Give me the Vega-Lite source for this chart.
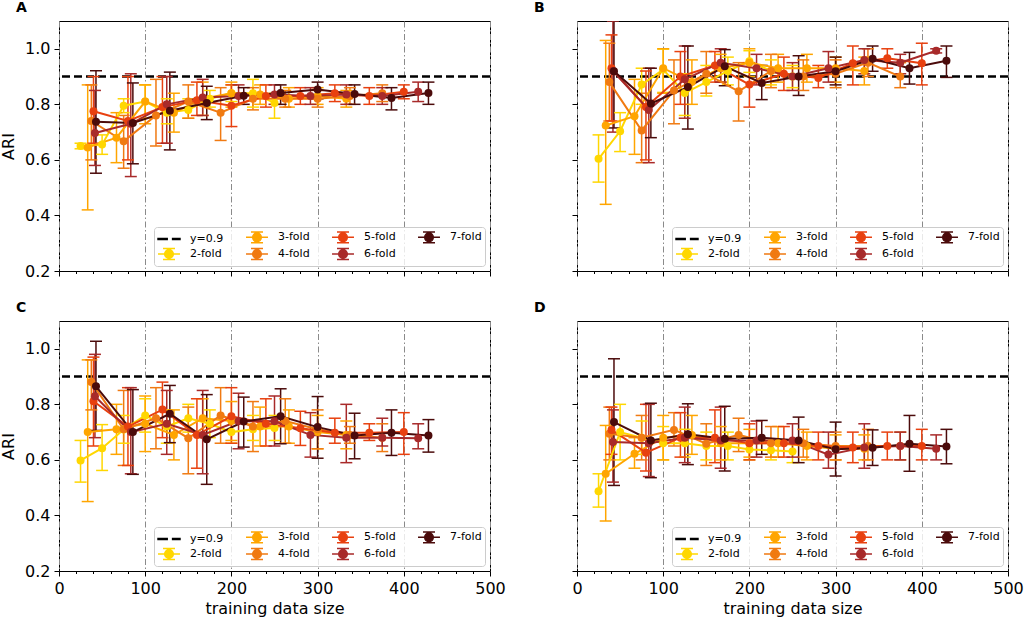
{
  "$schema": "https://vega.github.io/schema/vega-lite/v6.json",
  "padding": {"left": 0, "top": 0, "right": 0, "bottom": 0},
  "bounds": "flush",
  "columns": 2,
  "spacing": {"row": 50, "column": 87},
  "datasets": {
    "ari": [
      {"p":"A","f":"2-fold","x":25,"y":0.65,"lo":0.64,"hi":0.66},
      {"p":"A","f":"2-fold","x":50,"y":0.655,"lo":0.62,"hi":0.69},
      {"p":"A","f":"2-fold","x":75,"y":0.795,"lo":0.77,"hi":0.82},
      {"p":"A","f":"2-fold","x":100,"y":0.81,"lo":0.75,"hi":0.87},
      {"p":"A","f":"2-fold","x":125,"y":0.77,"lo":0.73,"hi":0.82},
      {"p":"A","f":"2-fold","x":150,"y":0.78,"lo":0.75,"hi":0.82},
      {"p":"A","f":"2-fold","x":175,"y":0.82,"lo":0.79,"hi":0.85},
      {"p":"A","f":"2-fold","x":200,"y":0.84,"lo":0.81,"hi":0.87},
      {"p":"A","f":"2-fold","x":225,"y":0.84,"lo":0.79,"hi":0.89},
      {"p":"A","f":"2-fold","x":250,"y":0.805,"lo":0.75,"hi":0.84},
      {"p":"A","f":"3-fold","x":33.3,"y":0.645,"lo":0.42,"hi":0.87},
      {"p":"A","f":"3-fold","x":66.7,"y":0.68,"lo":0.59,"hi":0.77},
      {"p":"A","f":"3-fold","x":100,"y":0.81,"lo":0.73,"hi":0.87},
      {"p":"A","f":"3-fold","x":133.3,"y":0.77,"lo":0.7,"hi":0.84},
      {"p":"A","f":"3-fold","x":166.7,"y":0.82,"lo":0.76,"hi":0.88},
      {"p":"A","f":"3-fold","x":200,"y":0.84,"lo":0.79,"hi":0.88},
      {"p":"A","f":"3-fold","x":233.3,"y":0.835,"lo":0.8,"hi":0.87},
      {"p":"A","f":"3-fold","x":266.7,"y":0.82,"lo":0.79,"hi":0.86},
      {"p":"A","f":"3-fold","x":300,"y":0.83,"lo":0.8,"hi":0.86},
      {"p":"A","f":"3-fold","x":333.3,"y":0.82,"lo":0.79,"hi":0.85},
      {"p":"A","f":"4-fold","x":37.5,"y":0.74,"lo":0.6,"hi":0.87},
      {"p":"A","f":"4-fold","x":75,"y":0.667,"lo":0.57,"hi":0.76},
      {"p":"A","f":"4-fold","x":112.5,"y":0.76,"lo":0.65,"hi":0.89},
      {"p":"A","f":"4-fold","x":150,"y":0.81,"lo":0.75,"hi":0.87},
      {"p":"A","f":"4-fold","x":187.5,"y":0.77,"lo":0.67,"hi":0.86},
      {"p":"A","f":"4-fold","x":225,"y":0.82,"lo":0.78,"hi":0.86},
      {"p":"A","f":"4-fold","x":262.5,"y":0.82,"lo":0.79,"hi":0.85},
      {"p":"A","f":"4-fold","x":300,"y":0.82,"lo":0.79,"hi":0.85},
      {"p":"A","f":"4-fold","x":337.5,"y":0.83,"lo":0.8,"hi":0.86},
      {"p":"A","f":"4-fold","x":375,"y":0.84,"lo":0.81,"hi":0.87},
      {"p":"A","f":"5-fold","x":40,"y":0.775,"lo":0.66,"hi":0.9},
      {"p":"A","f":"5-fold","x":80,"y":0.74,"lo":0.6,"hi":0.9},
      {"p":"A","f":"5-fold","x":120,"y":0.79,"lo":0.66,"hi":0.9},
      {"p":"A","f":"5-fold","x":160,"y":0.815,"lo":0.76,"hi":0.88},
      {"p":"A","f":"5-fold","x":200,"y":0.795,"lo":0.72,"hi":0.87},
      {"p":"A","f":"5-fold","x":240,"y":0.83,"lo":0.79,"hi":0.87},
      {"p":"A","f":"5-fold","x":280,"y":0.83,"lo":0.8,"hi":0.86},
      {"p":"A","f":"5-fold","x":320,"y":0.84,"lo":0.81,"hi":0.87},
      {"p":"A","f":"5-fold","x":360,"y":0.83,"lo":0.8,"hi":0.86},
      {"p":"A","f":"5-fold","x":400,"y":0.845,"lo":0.82,"hi":0.87},
      {"p":"A","f":"6-fold","x":41.7,"y":0.697,"lo":0.58,"hi":0.85},
      {"p":"A","f":"6-fold","x":83.3,"y":0.73,"lo":0.54,"hi":0.91},
      {"p":"A","f":"6-fold","x":125,"y":0.8,"lo":0.66,"hi":0.9},
      {"p":"A","f":"6-fold","x":166.7,"y":0.825,"lo":0.76,"hi":0.89},
      {"p":"A","f":"6-fold","x":208.3,"y":0.83,"lo":0.8,"hi":0.87},
      {"p":"A","f":"6-fold","x":250,"y":0.835,"lo":0.8,"hi":0.87},
      {"p":"A","f":"6-fold","x":291.7,"y":0.83,"lo":0.8,"hi":0.86},
      {"p":"A","f":"6-fold","x":333.3,"y":0.835,"lo":0.8,"hi":0.87},
      {"p":"A","f":"6-fold","x":375,"y":0.83,"lo":0.8,"hi":0.86},
      {"p":"A","f":"6-fold","x":416.7,"y":0.845,"lo":0.81,"hi":0.88},
      {"p":"A","f":"7-fold","x":42.9,"y":0.737,"lo":0.552,"hi":0.921},
      {"p":"A","f":"7-fold","x":85.7,"y":0.733,"lo":0.586,"hi":0.877},
      {"p":"A","f":"7-fold","x":128.6,"y":0.777,"lo":0.636,"hi":0.916},
      {"p":"A","f":"7-fold","x":171.4,"y":0.805,"lo":0.745,"hi":0.865},
      {"p":"A","f":"7-fold","x":214.3,"y":0.831,"lo":0.8,"hi":0.86},
      {"p":"A","f":"7-fold","x":257.1,"y":0.841,"lo":0.8,"hi":0.87},
      {"p":"A","f":"7-fold","x":300,"y":0.853,"lo":0.82,"hi":0.88},
      {"p":"A","f":"7-fold","x":342.9,"y":0.837,"lo":0.8,"hi":0.87},
      {"p":"A","f":"7-fold","x":385.7,"y":0.823,"lo":0.78,"hi":0.86},
      {"p":"A","f":"7-fold","x":428.6,"y":0.841,"lo":0.8,"hi":0.88},

      {"p":"B","f":"2-fold","x":25,"y":0.604,"lo":0.52,"hi":0.69},
      {"p":"B","f":"2-fold","x":50,"y":0.703,"lo":0.63,"hi":0.77},
      {"p":"B","f":"2-fold","x":75,"y":0.871,"lo":0.8,"hi":0.93},
      {"p":"B","f":"2-fold","x":100,"y":0.925,"lo":0.843,"hi":0.999},
      {"p":"B","f":"2-fold","x":125,"y":0.841,"lo":0.76,"hi":0.91},
      {"p":"B","f":"2-fold","x":150,"y":0.88,"lo":0.83,"hi":0.94},
      {"p":"B","f":"2-fold","x":175,"y":0.92,"lo":0.87,"hi":0.97},
      {"p":"B","f":"2-fold","x":200,"y":0.955,"lo":0.915,"hi":0.993},
      {"p":"B","f":"2-fold","x":225,"y":0.92,"lo":0.87,"hi":0.96},
      {"p":"B","f":"2-fold","x":250,"y":0.9,"lo":0.86,"hi":0.94},
      {"p":"B","f":"3-fold","x":33.3,"y":0.724,"lo":0.44,"hi":1.03},
      {"p":"B","f":"3-fold","x":66.7,"y":0.757,"lo":0.62,"hi":0.89},
      {"p":"B","f":"3-fold","x":100,"y":0.93,"lo":0.84,"hi":1.0},
      {"p":"B","f":"3-fold","x":133.3,"y":0.88,"lo":0.8,"hi":0.96},
      {"p":"B","f":"3-fold","x":166.7,"y":0.93,"lo":0.88,"hi":0.98},
      {"p":"B","f":"3-fold","x":200,"y":0.95,"lo":0.9,"hi":1.0},
      {"p":"B","f":"3-fold","x":233.3,"y":0.93,"lo":0.88,"hi":0.98},
      {"p":"B","f":"3-fold","x":266.7,"y":0.93,"lo":0.88,"hi":0.98},
      {"p":"B","f":"3-fold","x":300,"y":0.93,"lo":0.88,"hi":0.97},
      {"p":"B","f":"3-fold","x":333.3,"y":0.92,"lo":0.87,"hi":0.97},
      {"p":"B","f":"4-fold","x":37.5,"y":0.88,"lo":0.74,"hi":1.02},
      {"p":"B","f":"4-fold","x":75,"y":0.706,"lo":0.59,"hi":0.84},
      {"p":"B","f":"4-fold","x":112.5,"y":0.85,"lo":0.73,"hi":0.96},
      {"p":"B","f":"4-fold","x":150,"y":0.91,"lo":0.84,"hi":0.99},
      {"p":"B","f":"4-fold","x":187.5,"y":0.847,"lo":0.74,"hi":0.95},
      {"p":"B","f":"4-fold","x":225,"y":0.92,"lo":0.86,"hi":0.98},
      {"p":"B","f":"4-fold","x":262.5,"y":0.9,"lo":0.85,"hi":0.96},
      {"p":"B","f":"4-fold","x":300,"y":0.91,"lo":0.86,"hi":0.96},
      {"p":"B","f":"4-fold","x":337.5,"y":0.95,"lo":0.9,"hi":1.0},
      {"p":"B","f":"4-fold","x":375,"y":0.9,"lo":0.86,"hi":0.95},
      {"p":"B","f":"5-fold","x":40,"y":0.93,"lo":0.74,"hi":1.05},
      {"p":"B","f":"5-fold","x":80,"y":0.79,"lo":0.6,"hi":0.92},
      {"p":"B","f":"5-fold","x":120,"y":0.9,"lo":0.8,"hi":0.99},
      {"p":"B","f":"5-fold","x":160,"y":0.94,"lo":0.88,"hi":0.99},
      {"p":"B","f":"5-fold","x":200,"y":0.871,"lo":0.79,"hi":0.95},
      {"p":"B","f":"5-fold","x":240,"y":0.91,"lo":0.85,"hi":0.97},
      {"p":"B","f":"5-fold","x":280,"y":0.895,"lo":0.86,"hi":0.94},
      {"p":"B","f":"5-fold","x":320,"y":0.948,"lo":0.87,"hi":1.01},
      {"p":"B","f":"5-fold","x":360,"y":0.966,"lo":0.93,"hi":1.0},
      {"p":"B","f":"5-fold","x":400,"y":0.948,"lo":0.87,"hi":1.02},
      {"p":"B","f":"6-fold","x":41.7,"y":0.92,"lo":0.7,"hi":1.1},
      {"p":"B","f":"6-fold","x":83.3,"y":0.78,"lo":0.59,"hi":0.93},
      {"p":"B","f":"6-fold","x":125,"y":0.89,"lo":0.75,"hi":1.01},
      {"p":"B","f":"6-fold","x":166.7,"y":0.95,"lo":0.88,"hi":1.0},
      {"p":"B","f":"6-fold","x":208.3,"y":0.93,"lo":0.87,"hi":0.98},
      {"p":"B","f":"6-fold","x":250,"y":0.9,"lo":0.85,"hi":0.95},
      {"p":"B","f":"6-fold","x":291.7,"y":0.93,"lo":0.88,"hi":0.99},
      {"p":"B","f":"6-fold","x":333.3,"y":0.96,"lo":0.91,"hi":1.0},
      {"p":"B","f":"6-fold","x":375,"y":0.95,"lo":0.91,"hi":0.98},
      {"p":"B","f":"6-fold","x":416.7,"y":0.993,"lo":0.985,"hi":1.0},
      {"p":"B","f":"7-fold","x":42.9,"y":0.919,"lo":0.715,"hi":1.15},
      {"p":"B","f":"7-fold","x":85.7,"y":0.803,"lo":0.68,"hi":0.93},
      {"p":"B","f":"7-fold","x":128.6,"y":0.862,"lo":0.711,"hi":1.01},
      {"p":"B","f":"7-fold","x":171.4,"y":0.937,"lo":0.867,"hi":0.997},
      {"p":"B","f":"7-fold","x":214.3,"y":0.877,"lo":0.817,"hi":0.94},
      {"p":"B","f":"7-fold","x":257.1,"y":0.9,"lo":0.832,"hi":0.975},
      {"p":"B","f":"7-fold","x":300,"y":0.919,"lo":0.87,"hi":0.97},
      {"p":"B","f":"7-fold","x":342.9,"y":0.964,"lo":0.919,"hi":1.01},
      {"p":"B","f":"7-fold","x":385.7,"y":0.93,"lo":0.873,"hi":0.987},
      {"p":"B","f":"7-fold","x":428.6,"y":0.957,"lo":0.897,"hi":1.01},

      {"p":"C","f":"2-fold","x":25,"y":0.598,"lo":0.52,"hi":0.67},
      {"p":"C","f":"2-fold","x":50,"y":0.642,"lo":0.562,"hi":0.727},
      {"p":"C","f":"2-fold","x":75,"y":0.709,"lo":0.66,"hi":0.76},
      {"p":"C","f":"2-fold","x":100,"y":0.76,"lo":0.7,"hi":0.82},
      {"p":"C","f":"2-fold","x":125,"y":0.72,"lo":0.66,"hi":0.78},
      {"p":"C","f":"2-fold","x":150,"y":0.75,"lo":0.7,"hi":0.8},
      {"p":"C","f":"2-fold","x":175,"y":0.73,"lo":0.68,"hi":0.78},
      {"p":"C","f":"2-fold","x":200,"y":0.7,"lo":0.66,"hi":0.75},
      {"p":"C","f":"2-fold","x":225,"y":0.71,"lo":0.67,"hi":0.76},
      {"p":"C","f":"2-fold","x":250,"y":0.715,"lo":0.67,"hi":0.76},
      {"p":"C","f":"3-fold","x":33.3,"y":0.7,"lo":0.45,"hi":0.96},
      {"p":"C","f":"3-fold","x":66.7,"y":0.71,"lo":0.62,"hi":0.8},
      {"p":"C","f":"3-fold","x":100,"y":0.73,"lo":0.63,"hi":0.83},
      {"p":"C","f":"3-fold","x":133.3,"y":0.69,"lo":0.6,"hi":0.78},
      {"p":"C","f":"3-fold","x":166.7,"y":0.75,"lo":0.68,"hi":0.82},
      {"p":"C","f":"3-fold","x":200,"y":0.74,"lo":0.67,"hi":0.81},
      {"p":"C","f":"3-fold","x":233.3,"y":0.72,"lo":0.65,"hi":0.79},
      {"p":"C","f":"3-fold","x":266.7,"y":0.72,"lo":0.66,"hi":0.78},
      {"p":"C","f":"3-fold","x":300,"y":0.7,"lo":0.64,"hi":0.76},
      {"p":"C","f":"3-fold","x":333.3,"y":0.69,"lo":0.64,"hi":0.74},
      {"p":"C","f":"4-fold","x":37.5,"y":0.88,"lo":0.78,"hi":0.96},
      {"p":"C","f":"4-fold","x":75,"y":0.71,"lo":0.58,"hi":0.85},
      {"p":"C","f":"4-fold","x":112.5,"y":0.75,"lo":0.64,"hi":0.86},
      {"p":"C","f":"4-fold","x":150,"y":0.678,"lo":0.55,"hi":0.79},
      {"p":"C","f":"4-fold","x":187.5,"y":0.76,"lo":0.66,"hi":0.86},
      {"p":"C","f":"4-fold","x":225,"y":0.72,"lo":0.63,"hi":0.81},
      {"p":"C","f":"4-fold","x":262.5,"y":0.74,"lo":0.66,"hi":0.82},
      {"p":"C","f":"4-fold","x":300,"y":0.71,"lo":0.64,"hi":0.78},
      {"p":"C","f":"4-fold","x":337.5,"y":0.69,"lo":0.66,"hi":0.72},
      {"p":"C","f":"4-fold","x":375,"y":0.68,"lo":0.63,"hi":0.73},
      {"p":"C","f":"5-fold","x":40,"y":0.811,"lo":0.65,"hi":0.97},
      {"p":"C","f":"5-fold","x":80,"y":0.72,"lo":0.58,"hi":0.86},
      {"p":"C","f":"5-fold","x":120,"y":0.781,"lo":0.68,"hi":0.88},
      {"p":"C","f":"5-fold","x":160,"y":0.69,"lo":0.57,"hi":0.82},
      {"p":"C","f":"5-fold","x":200,"y":0.757,"lo":0.66,"hi":0.86},
      {"p":"C","f":"5-fold","x":240,"y":0.73,"lo":0.65,"hi":0.82},
      {"p":"C","f":"5-fold","x":280,"y":0.714,"lo":0.652,"hi":0.775},
      {"p":"C","f":"5-fold","x":320,"y":0.698,"lo":0.66,"hi":0.75},
      {"p":"C","f":"5-fold","x":360,"y":0.698,"lo":0.67,"hi":0.73},
      {"p":"C","f":"5-fold","x":400,"y":0.7,"lo":0.62,"hi":0.77},
      {"p":"C","f":"6-fold","x":41.7,"y":0.829,"lo":0.68,"hi":0.98},
      {"p":"C","f":"6-fold","x":83.3,"y":0.7,"lo":0.55,"hi":0.86},
      {"p":"C","f":"6-fold","x":125,"y":0.73,"lo":0.62,"hi":0.85},
      {"p":"C","f":"6-fold","x":166.7,"y":0.69,"lo":0.55,"hi":0.85},
      {"p":"C","f":"6-fold","x":208.3,"y":0.74,"lo":0.64,"hi":0.84},
      {"p":"C","f":"6-fold","x":250,"y":0.739,"lo":0.65,"hi":0.83},
      {"p":"C","f":"6-fold","x":291.7,"y":0.69,"lo":0.61,"hi":0.77},
      {"p":"C","f":"6-fold","x":333.3,"y":0.68,"lo":0.59,"hi":0.8},
      {"p":"C","f":"6-fold","x":375,"y":0.68,"lo":0.65,"hi":0.75},
      {"p":"C","f":"6-fold","x":416.7,"y":0.678,"lo":0.64,"hi":0.73},
      {"p":"C","f":"7-fold","x":42.9,"y":0.865,"lo":0.706,"hi":1.027},
      {"p":"C","f":"7-fold","x":85.7,"y":0.7,"lo":0.548,"hi":0.853},
      {"p":"C","f":"7-fold","x":128.6,"y":0.766,"lo":0.662,"hi":0.868},
      {"p":"C","f":"7-fold","x":171.4,"y":0.674,"lo":0.512,"hi":0.835},
      {"p":"C","f":"7-fold","x":214.3,"y":0.738,"lo":0.646,"hi":0.826},
      {"p":"C","f":"7-fold","x":257.1,"y":0.757,"lo":0.658,"hi":0.856},
      {"p":"C","f":"7-fold","x":300,"y":0.718,"lo":0.606,"hi":0.828},
      {"p":"C","f":"7-fold","x":342.9,"y":0.688,"lo":0.604,"hi":0.768},
      {"p":"C","f":"7-fold","x":385.7,"y":0.698,"lo":0.616,"hi":0.78},
      {"p":"C","f":"7-fold","x":428.6,"y":0.688,"lo":0.628,"hi":0.745},

      {"p":"D","f":"2-fold","x":25,"y":0.487,"lo":0.43,"hi":0.55},
      {"p":"D","f":"2-fold","x":50,"y":0.7,"lo":0.6,"hi":0.8},
      {"p":"D","f":"2-fold","x":75,"y":0.68,"lo":0.62,"hi":0.74},
      {"p":"D","f":"2-fold","x":100,"y":0.66,"lo":0.6,"hi":0.72},
      {"p":"D","f":"2-fold","x":125,"y":0.66,"lo":0.61,"hi":0.71},
      {"p":"D","f":"2-fold","x":150,"y":0.65,"lo":0.6,"hi":0.7},
      {"p":"D","f":"2-fold","x":175,"y":0.65,"lo":0.6,"hi":0.7},
      {"p":"D","f":"2-fold","x":200,"y":0.637,"lo":0.6,"hi":0.68},
      {"p":"D","f":"2-fold","x":225,"y":0.635,"lo":0.6,"hi":0.67},
      {"p":"D","f":"2-fold","x":250,"y":0.63,"lo":0.59,"hi":0.67},
      {"p":"D","f":"3-fold","x":33.3,"y":0.55,"lo":0.38,"hi":0.724},
      {"p":"D","f":"3-fold","x":66.7,"y":0.622,"lo":0.57,"hi":0.68},
      {"p":"D","f":"3-fold","x":100,"y":0.68,"lo":0.6,"hi":0.76},
      {"p":"D","f":"3-fold","x":133.3,"y":0.69,"lo":0.62,"hi":0.76},
      {"p":"D","f":"3-fold","x":166.7,"y":0.66,"lo":0.6,"hi":0.72},
      {"p":"D","f":"3-fold","x":200,"y":0.66,"lo":0.61,"hi":0.71},
      {"p":"D","f":"3-fold","x":233.3,"y":0.66,"lo":0.61,"hi":0.72},
      {"p":"D","f":"3-fold","x":266.7,"y":0.65,"lo":0.6,"hi":0.7},
      {"p":"D","f":"3-fold","x":300,"y":0.64,"lo":0.6,"hi":0.69},
      {"p":"D","f":"3-fold","x":333.3,"y":0.64,"lo":0.6,"hi":0.69},
      {"p":"D","f":"4-fold","x":37.5,"y":0.694,"lo":0.6,"hi":0.79},
      {"p":"D","f":"4-fold","x":75,"y":0.68,"lo":0.6,"hi":0.76},
      {"p":"D","f":"4-fold","x":112.5,"y":0.708,"lo":0.65,"hi":0.77},
      {"p":"D","f":"4-fold","x":150,"y":0.658,"lo":0.58,"hi":0.73},
      {"p":"D","f":"4-fold","x":187.5,"y":0.69,"lo":0.63,"hi":0.75},
      {"p":"D","f":"4-fold","x":225,"y":0.66,"lo":0.61,"hi":0.72},
      {"p":"D","f":"4-fold","x":262.5,"y":0.66,"lo":0.61,"hi":0.71},
      {"p":"D","f":"4-fold","x":300,"y":0.65,"lo":0.6,"hi":0.7},
      {"p":"D","f":"4-fold","x":337.5,"y":0.65,"lo":0.6,"hi":0.71},
      {"p":"D","f":"4-fold","x":375,"y":0.65,"lo":0.6,"hi":0.7},
      {"p":"D","f":"5-fold","x":40,"y":0.708,"lo":0.62,"hi":0.79},
      {"p":"D","f":"5-fold","x":80,"y":0.626,"lo":0.56,"hi":0.8},
      {"p":"D","f":"5-fold","x":120,"y":0.68,"lo":0.61,"hi":0.77},
      {"p":"D","f":"5-fold","x":160,"y":0.68,"lo":0.59,"hi":0.78},
      {"p":"D","f":"5-fold","x":200,"y":0.66,"lo":0.6,"hi":0.73},
      {"p":"D","f":"5-fold","x":240,"y":0.66,"lo":0.61,"hi":0.72},
      {"p":"D","f":"5-fold","x":280,"y":0.65,"lo":0.6,"hi":0.7},
      {"p":"D","f":"5-fold","x":320,"y":0.645,"lo":0.59,"hi":0.7},
      {"p":"D","f":"5-fold","x":360,"y":0.65,"lo":0.6,"hi":0.7},
      {"p":"D","f":"5-fold","x":400,"y":0.65,"lo":0.6,"hi":0.71},
      {"p":"D","f":"6-fold","x":41.7,"y":0.664,"lo":0.52,"hi":0.78},
      {"p":"D","f":"6-fold","x":83.3,"y":0.66,"lo":0.54,"hi":0.8},
      {"p":"D","f":"6-fold","x":125,"y":0.68,"lo":0.59,"hi":0.79},
      {"p":"D","f":"6-fold","x":166.7,"y":0.67,"lo":0.57,"hi":0.79},
      {"p":"D","f":"6-fold","x":208.3,"y":0.67,"lo":0.61,"hi":0.74},
      {"p":"D","f":"6-fold","x":250,"y":0.67,"lo":0.61,"hi":0.73},
      {"p":"D","f":"6-fold","x":291.7,"y":0.619,"lo":0.57,"hi":0.7},
      {"p":"D","f":"6-fold","x":333.3,"y":0.645,"lo":0.57,"hi":0.73},
      {"p":"D","f":"6-fold","x":375,"y":0.65,"lo":0.6,"hi":0.7},
      {"p":"D","f":"6-fold","x":416.7,"y":0.64,"lo":0.6,"hi":0.69},
      {"p":"D","f":"7-fold","x":42.9,"y":0.736,"lo":0.508,"hi":0.964},
      {"p":"D","f":"7-fold","x":85.7,"y":0.67,"lo":0.536,"hi":0.804},
      {"p":"D","f":"7-fold","x":128.6,"y":0.692,"lo":0.583,"hi":0.802},
      {"p":"D","f":"7-fold","x":171.4,"y":0.676,"lo":0.56,"hi":0.793},
      {"p":"D","f":"7-fold","x":214.3,"y":0.68,"lo":0.62,"hi":0.742},
      {"p":"D","f":"7-fold","x":257.1,"y":0.67,"lo":0.59,"hi":0.754},
      {"p":"D","f":"7-fold","x":300,"y":0.638,"lo":0.542,"hi":0.736},
      {"p":"D","f":"7-fold","x":342.9,"y":0.644,"lo":0.58,"hi":0.708},
      {"p":"D","f":"7-fold","x":385.7,"y":0.658,"lo":0.559,"hi":0.76},
      {"p":"D","f":"7-fold","x":428.6,"y":0.648,"lo":0.586,"hi":0.71}
    ]
  },
  "concat": [
    {
      "width": 431,
      "height": 250,
      "title": {"text": "A", "anchor": "start", "frame": "group", "dx": -43, "offset": 6},
      "resolve": {"legend": {"color": "independent", "stroke": "independent", "shape": "independent"}},
      "layer": [
        {
          "data": {"values": [{}]},
          "mark": {"type": "rule", "color": "black", "strokeWidth": 2.5, "strokeDash": [8, 4]},
          "encoding": {"y": {"datum": 0.9, "type": "quantitative", "scale": {"domain": [0.2, 1.1], "nice": false},
            "axis": {"values": [0.2,0.25,0.3,0.35,0.4,0.45,0.5,0.55,0.6,0.65,0.7,0.75,0.8,0.85,0.9,0.95,1.0,1.05,1.1],
              "format": ".1f", "title": "ARI",
              "labelExpr": "round(datum.value * 100) % 20 === 0 ? datum.label : ''",
              "tickSize": {"condition": {"test": "round(datum.value * 100) % 20 === 0", "value": 5}, "value": 2.5},
              "gridOpacity": {"condition": {"test": "round(datum.value * 100) % 20 === 0", "value": 1}, "value": 0}}}}
        },
        {
          "data": {"name": "ari"},
          "transform": [{"filter": "datum.p === 'A'"}],
          "resolve": {"legend": {"color": "independent", "stroke": "independent", "shape": "independent"}},
          "encoding": {
            "x": {"field": "x", "type": "quantitative", "scale": {"domain": [0, 500], "nice": false},
              "axis": {"values": [0,20,40,60,80,100,120,140,160,180,200,220,240,260,280,300,320,340,360,380,400,420,440,460,480,500],
                "labels": false, "title": null,
                "tickSize": {"condition": {"test": "datum.value % 100 === 0", "value": 5}, "value": 2.5},
                "gridOpacity": {"condition": {"test": "datum.value % 100 === 0", "value": 1}, "value": 0}}},
            "color": {"field": "f", "type": "nominal", "legend": null,
              "scale": {"domain": ["y=0.9","2-fold","3-fold","4-fold","5-fold","6-fold","7-fold"], "range": ["#000000","#ffd700","#ffa500","#f07a12","#e8400f","#a82a2a","#4b0b0b"]}}
          },
          "layer": [
            {"mark": {"type": "rule", "strokeWidth": 1.5, "clip": true},
             "encoding": {"y": {"field": "lo", "type": "quantitative", "scale": {"domain": [0.2, 1.1], "nice": false}}, "y2": {"field": "hi"}}},
            {"mark": {"type": "tick", "orient": "horizontal", "size": 12, "thickness": 1.5, "opacity": 1, "clip": true},
             "encoding": {"y": {"field": "lo", "type": "quantitative", "scale": {"domain": [0.2, 1.1], "nice": false}}}},
            {"mark": {"type": "tick", "orient": "horizontal", "size": 12, "thickness": 1.5, "opacity": 1, "clip": true},
             "encoding": {"y": {"field": "hi", "type": "quantitative", "scale": {"domain": [0.2, 1.1], "nice": false}}}},
            {"mark": {"type": "line", "strokeWidth": 2, "clip": true},
             "encoding": {"y": {"field": "y", "type": "quantitative", "scale": {"domain": [0.2, 1.1], "nice": false}}}},
            {"mark": {"type": "point", "filled": true, "size": 64, "opacity": 1, "clip": true},
             "encoding": {"y": {"field": "y", "type": "quantitative", "scale": {"domain": [0.2, 1.1], "nice": false}}}},
            {"transform": [{"filter": "false"}],
             "mark": {"type": "point", "filled": true, "opacity": 1},
             "encoding": {
               "y": {"field": "y", "type": "quantitative", "scale": {"domain": [0.2, 1.1], "nice": false}},
               "color": {"field": "f", "type": "nominal", "legend": {"title": null},
                 "scale": {"domain": ["y=0.9","2-fold","3-fold","4-fold","5-fold","6-fold","7-fold"], "range": ["#000000","#ffd700","#ffa500","#f07a12","#e8400f","#a82a2a","#4b0b0b"]}},
               "stroke": {"field": "f", "type": "nominal", "legend": {"title": null},
                 "scale": {"domain": ["y=0.9","2-fold","3-fold","4-fold","5-fold","6-fold","7-fold"], "range": ["#000000","#ffd700","#ffa500","#f07a12","#e8400f","#a82a2a","#4b0b0b"]}},
               "shape": {"field": "f", "type": "nominal", "legend": {"title": null},
                 "scale": {"domain": ["y=0.9","2-fold","3-fold","4-fold","5-fold","6-fold","7-fold"],
                   "range": ["M-1.83,-0.1H-0.3V0.1H-1.83ZM0.6,-0.1H1.83V0.1H0.6Z",
                     "M-1.83,0H1.83M0,-0.9V0.9M-1,-0.9H1M-1,0.9H1M0.72,0A0.72,0.72,0,1,1,-0.72,0A0.72,0.72,0,1,1,0.72,0Z",
                     "M-1.83,0H1.83M0,-0.9V0.9M-1,-0.9H1M-1,0.9H1M0.72,0A0.72,0.72,0,1,1,-0.72,0A0.72,0.72,0,1,1,0.72,0Z",
                     "M-1.83,0H1.83M0,-0.9V0.9M-1,-0.9H1M-1,0.9H1M0.72,0A0.72,0.72,0,1,1,-0.72,0A0.72,0.72,0,1,1,0.72,0Z",
                     "M-1.83,0H1.83M0,-0.9V0.9M-1,-0.9H1M-1,0.9H1M0.72,0A0.72,0.72,0,1,1,-0.72,0A0.72,0.72,0,1,1,0.72,0Z",
                     "M-1.83,0H1.83M0,-0.9V0.9M-1,-0.9H1M-1,0.9H1M0.72,0A0.72,0.72,0,1,1,-0.72,0A0.72,0.72,0,1,1,0.72,0Z",
                     "M-1.83,0H1.83M0,-0.9V0.9M-1,-0.9H1M-1,0.9H1M0.72,0A0.72,0.72,0,1,1,-0.72,0A0.72,0.72,0,1,1,0.72,0Z"]}}
             }}
          ]
        }
      ]
    },
    {
      "width": 431,
      "height": 250,
      "title": {"text": "B", "anchor": "start", "frame": "group", "dx": -43, "offset": 6},
      "resolve": {"legend": {"color": "independent", "stroke": "independent", "shape": "independent"}},
      "layer": [
        {
          "data": {"values": [{}]},
          "mark": {"type": "rule", "color": "black", "strokeWidth": 2.5, "strokeDash": [8, 4]},
          "encoding": {"y": {"datum": 0.9, "type": "quantitative", "scale": {"domain": [0.2, 1.1], "nice": false},
            "axis": {"values": [0.2,0.25,0.3,0.35,0.4,0.45,0.5,0.55,0.6,0.65,0.7,0.75,0.8,0.85,0.9,0.95,1.0,1.05,1.1],
              "labels": false, "title": null,
              "tickSize": {"condition": {"test": "round(datum.value * 100) % 20 === 0", "value": 5}, "value": 2.5},
              "gridOpacity": {"condition": {"test": "round(datum.value * 100) % 20 === 0", "value": 1}, "value": 0}}}}
        },
        {
          "data": {"name": "ari"},
          "transform": [{"filter": "datum.p === 'B'"}],
          "resolve": {"legend": {"color": "independent", "stroke": "independent", "shape": "independent"}},
          "encoding": {
            "x": {"field": "x", "type": "quantitative", "scale": {"domain": [0, 500], "nice": false},
              "axis": {"values": [0,20,40,60,80,100,120,140,160,180,200,220,240,260,280,300,320,340,360,380,400,420,440,460,480,500],
                "labels": false, "title": null,
                "tickSize": {"condition": {"test": "datum.value % 100 === 0", "value": 5}, "value": 2.5},
                "gridOpacity": {"condition": {"test": "datum.value % 100 === 0", "value": 1}, "value": 0}}},
            "color": {"field": "f", "type": "nominal", "legend": null,
              "scale": {"domain": ["y=0.9","2-fold","3-fold","4-fold","5-fold","6-fold","7-fold"], "range": ["#000000","#ffd700","#ffa500","#f07a12","#e8400f","#a82a2a","#4b0b0b"]}}
          },
          "layer": [
            {"mark": {"type": "rule", "strokeWidth": 1.5, "clip": true},
             "encoding": {"y": {"field": "lo", "type": "quantitative", "scale": {"domain": [0.2, 1.1], "nice": false}}, "y2": {"field": "hi"}}},
            {"mark": {"type": "tick", "orient": "horizontal", "size": 12, "thickness": 1.5, "opacity": 1, "clip": true},
             "encoding": {"y": {"field": "lo", "type": "quantitative", "scale": {"domain": [0.2, 1.1], "nice": false}}}},
            {"mark": {"type": "tick", "orient": "horizontal", "size": 12, "thickness": 1.5, "opacity": 1, "clip": true},
             "encoding": {"y": {"field": "hi", "type": "quantitative", "scale": {"domain": [0.2, 1.1], "nice": false}}}},
            {"mark": {"type": "line", "strokeWidth": 2, "clip": true},
             "encoding": {"y": {"field": "y", "type": "quantitative", "scale": {"domain": [0.2, 1.1], "nice": false}}}},
            {"mark": {"type": "point", "filled": true, "size": 64, "opacity": 1, "clip": true},
             "encoding": {"y": {"field": "y", "type": "quantitative", "scale": {"domain": [0.2, 1.1], "nice": false}}}},
            {"transform": [{"filter": "false"}],
             "mark": {"type": "point", "filled": true, "opacity": 1},
             "encoding": {
               "y": {"field": "y", "type": "quantitative", "scale": {"domain": [0.2, 1.1], "nice": false}},
               "color": {"field": "f", "type": "nominal", "legend": {"title": null},
                 "scale": {"domain": ["y=0.9","2-fold","3-fold","4-fold","5-fold","6-fold","7-fold"], "range": ["#000000","#ffd700","#ffa500","#f07a12","#e8400f","#a82a2a","#4b0b0b"]}},
               "stroke": {"field": "f", "type": "nominal", "legend": {"title": null},
                 "scale": {"domain": ["y=0.9","2-fold","3-fold","4-fold","5-fold","6-fold","7-fold"], "range": ["#000000","#ffd700","#ffa500","#f07a12","#e8400f","#a82a2a","#4b0b0b"]}},
               "shape": {"field": "f", "type": "nominal", "legend": {"title": null},
                 "scale": {"domain": ["y=0.9","2-fold","3-fold","4-fold","5-fold","6-fold","7-fold"],
                   "range": ["M-1.83,-0.1H-0.3V0.1H-1.83ZM0.6,-0.1H1.83V0.1H0.6Z",
                     "M-1.83,0H1.83M0,-0.9V0.9M-1,-0.9H1M-1,0.9H1M0.72,0A0.72,0.72,0,1,1,-0.72,0A0.72,0.72,0,1,1,0.72,0Z",
                     "M-1.83,0H1.83M0,-0.9V0.9M-1,-0.9H1M-1,0.9H1M0.72,0A0.72,0.72,0,1,1,-0.72,0A0.72,0.72,0,1,1,0.72,0Z",
                     "M-1.83,0H1.83M0,-0.9V0.9M-1,-0.9H1M-1,0.9H1M0.72,0A0.72,0.72,0,1,1,-0.72,0A0.72,0.72,0,1,1,0.72,0Z",
                     "M-1.83,0H1.83M0,-0.9V0.9M-1,-0.9H1M-1,0.9H1M0.72,0A0.72,0.72,0,1,1,-0.72,0A0.72,0.72,0,1,1,0.72,0Z",
                     "M-1.83,0H1.83M0,-0.9V0.9M-1,-0.9H1M-1,0.9H1M0.72,0A0.72,0.72,0,1,1,-0.72,0A0.72,0.72,0,1,1,0.72,0Z",
                     "M-1.83,0H1.83M0,-0.9V0.9M-1,-0.9H1M-1,0.9H1M0.72,0A0.72,0.72,0,1,1,-0.72,0A0.72,0.72,0,1,1,0.72,0Z"]}}
             }}
          ]
        }
      ]
    },
    {
      "width": 431,
      "height": 250,
      "title": {"text": "C", "anchor": "start", "frame": "group", "dx": -43, "offset": 6},
      "resolve": {"legend": {"color": "independent", "stroke": "independent", "shape": "independent"}},
      "layer": [
        {
          "data": {"values": [{}]},
          "mark": {"type": "rule", "color": "black", "strokeWidth": 2.5, "strokeDash": [8, 4]},
          "encoding": {"y": {"datum": 0.9, "type": "quantitative", "scale": {"domain": [0.2, 1.1], "nice": false},
            "axis": {"values": [0.2,0.25,0.3,0.35,0.4,0.45,0.5,0.55,0.6,0.65,0.7,0.75,0.8,0.85,0.9,0.95,1.0,1.05,1.1],
              "format": ".1f", "title": "ARI",
              "labelExpr": "round(datum.value * 100) % 20 === 0 ? datum.label : ''",
              "tickSize": {"condition": {"test": "round(datum.value * 100) % 20 === 0", "value": 5}, "value": 2.5},
              "gridOpacity": {"condition": {"test": "round(datum.value * 100) % 20 === 0", "value": 1}, "value": 0}}}}
        },
        {
          "data": {"name": "ari"},
          "transform": [{"filter": "datum.p === 'C'"}],
          "resolve": {"legend": {"color": "independent", "stroke": "independent", "shape": "independent"}},
          "encoding": {
            "x": {"field": "x", "type": "quantitative", "scale": {"domain": [0, 500], "nice": false},
              "axis": {"values": [0,20,40,60,80,100,120,140,160,180,200,220,240,260,280,300,320,340,360,380,400,420,440,460,480,500],
                "title": "training data size",
                "labelExpr": "datum.value % 100 === 0 ? datum.label : ''",
                "tickSize": {"condition": {"test": "datum.value % 100 === 0", "value": 5}, "value": 2.5},
                "gridOpacity": {"condition": {"test": "datum.value % 100 === 0", "value": 1}, "value": 0}}},
            "color": {"field": "f", "type": "nominal", "legend": null,
              "scale": {"domain": ["y=0.9","2-fold","3-fold","4-fold","5-fold","6-fold","7-fold"], "range": ["#000000","#ffd700","#ffa500","#f07a12","#e8400f","#a82a2a","#4b0b0b"]}}
          },
          "layer": [
            {"mark": {"type": "rule", "strokeWidth": 1.5, "clip": true},
             "encoding": {"y": {"field": "lo", "type": "quantitative", "scale": {"domain": [0.2, 1.1], "nice": false}}, "y2": {"field": "hi"}}},
            {"mark": {"type": "tick", "orient": "horizontal", "size": 12, "thickness": 1.5, "opacity": 1, "clip": true},
             "encoding": {"y": {"field": "lo", "type": "quantitative", "scale": {"domain": [0.2, 1.1], "nice": false}}}},
            {"mark": {"type": "tick", "orient": "horizontal", "size": 12, "thickness": 1.5, "opacity": 1, "clip": true},
             "encoding": {"y": {"field": "hi", "type": "quantitative", "scale": {"domain": [0.2, 1.1], "nice": false}}}},
            {"mark": {"type": "line", "strokeWidth": 2, "clip": true},
             "encoding": {"y": {"field": "y", "type": "quantitative", "scale": {"domain": [0.2, 1.1], "nice": false}}}},
            {"mark": {"type": "point", "filled": true, "size": 64, "opacity": 1, "clip": true},
             "encoding": {"y": {"field": "y", "type": "quantitative", "scale": {"domain": [0.2, 1.1], "nice": false}}}},
            {"transform": [{"filter": "false"}],
             "mark": {"type": "point", "filled": true, "opacity": 1},
             "encoding": {
               "y": {"field": "y", "type": "quantitative", "scale": {"domain": [0.2, 1.1], "nice": false}},
               "color": {"field": "f", "type": "nominal", "legend": {"title": null},
                 "scale": {"domain": ["y=0.9","2-fold","3-fold","4-fold","5-fold","6-fold","7-fold"], "range": ["#000000","#ffd700","#ffa500","#f07a12","#e8400f","#a82a2a","#4b0b0b"]}},
               "stroke": {"field": "f", "type": "nominal", "legend": {"title": null},
                 "scale": {"domain": ["y=0.9","2-fold","3-fold","4-fold","5-fold","6-fold","7-fold"], "range": ["#000000","#ffd700","#ffa500","#f07a12","#e8400f","#a82a2a","#4b0b0b"]}},
               "shape": {"field": "f", "type": "nominal", "legend": {"title": null},
                 "scale": {"domain": ["y=0.9","2-fold","3-fold","4-fold","5-fold","6-fold","7-fold"],
                   "range": ["M-1.83,-0.1H-0.3V0.1H-1.83ZM0.6,-0.1H1.83V0.1H0.6Z",
                     "M-1.83,0H1.83M0,-0.9V0.9M-1,-0.9H1M-1,0.9H1M0.72,0A0.72,0.72,0,1,1,-0.72,0A0.72,0.72,0,1,1,0.72,0Z",
                     "M-1.83,0H1.83M0,-0.9V0.9M-1,-0.9H1M-1,0.9H1M0.72,0A0.72,0.72,0,1,1,-0.72,0A0.72,0.72,0,1,1,0.72,0Z",
                     "M-1.83,0H1.83M0,-0.9V0.9M-1,-0.9H1M-1,0.9H1M0.72,0A0.72,0.72,0,1,1,-0.72,0A0.72,0.72,0,1,1,0.72,0Z",
                     "M-1.83,0H1.83M0,-0.9V0.9M-1,-0.9H1M-1,0.9H1M0.72,0A0.72,0.72,0,1,1,-0.72,0A0.72,0.72,0,1,1,0.72,0Z",
                     "M-1.83,0H1.83M0,-0.9V0.9M-1,-0.9H1M-1,0.9H1M0.72,0A0.72,0.72,0,1,1,-0.72,0A0.72,0.72,0,1,1,0.72,0Z",
                     "M-1.83,0H1.83M0,-0.9V0.9M-1,-0.9H1M-1,0.9H1M0.72,0A0.72,0.72,0,1,1,-0.72,0A0.72,0.72,0,1,1,0.72,0Z"]}}
             }}
          ]
        }
      ]
    },
    {
      "width": 431,
      "height": 250,
      "title": {"text": "D", "anchor": "start", "frame": "group", "dx": -43, "offset": 6},
      "resolve": {"legend": {"color": "independent", "stroke": "independent", "shape": "independent"}},
      "layer": [
        {
          "data": {"values": [{}]},
          "mark": {"type": "rule", "color": "black", "strokeWidth": 2.5, "strokeDash": [8, 4]},
          "encoding": {"y": {"datum": 0.9, "type": "quantitative", "scale": {"domain": [0.2, 1.1], "nice": false},
            "axis": {"values": [0.2,0.25,0.3,0.35,0.4,0.45,0.5,0.55,0.6,0.65,0.7,0.75,0.8,0.85,0.9,0.95,1.0,1.05,1.1],
              "labels": false, "title": null,
              "tickSize": {"condition": {"test": "round(datum.value * 100) % 20 === 0", "value": 5}, "value": 2.5},
              "gridOpacity": {"condition": {"test": "round(datum.value * 100) % 20 === 0", "value": 1}, "value": 0}}}}
        },
        {
          "data": {"name": "ari"},
          "transform": [{"filter": "datum.p === 'D'"}],
          "resolve": {"legend": {"color": "independent", "stroke": "independent", "shape": "independent"}},
          "encoding": {
            "x": {"field": "x", "type": "quantitative", "scale": {"domain": [0, 500], "nice": false},
              "axis": {"values": [0,20,40,60,80,100,120,140,160,180,200,220,240,260,280,300,320,340,360,380,400,420,440,460,480,500],
                "title": "training data size",
                "labelExpr": "datum.value % 100 === 0 ? datum.label : ''",
                "tickSize": {"condition": {"test": "datum.value % 100 === 0", "value": 5}, "value": 2.5},
                "gridOpacity": {"condition": {"test": "datum.value % 100 === 0", "value": 1}, "value": 0}}},
            "color": {"field": "f", "type": "nominal", "legend": null,
              "scale": {"domain": ["y=0.9","2-fold","3-fold","4-fold","5-fold","6-fold","7-fold"], "range": ["#000000","#ffd700","#ffa500","#f07a12","#e8400f","#a82a2a","#4b0b0b"]}}
          },
          "layer": [
            {"mark": {"type": "rule", "strokeWidth": 1.5, "clip": true},
             "encoding": {"y": {"field": "lo", "type": "quantitative", "scale": {"domain": [0.2, 1.1], "nice": false}}, "y2": {"field": "hi"}}},
            {"mark": {"type": "tick", "orient": "horizontal", "size": 12, "thickness": 1.5, "opacity": 1, "clip": true},
             "encoding": {"y": {"field": "lo", "type": "quantitative", "scale": {"domain": [0.2, 1.1], "nice": false}}}},
            {"mark": {"type": "tick", "orient": "horizontal", "size": 12, "thickness": 1.5, "opacity": 1, "clip": true},
             "encoding": {"y": {"field": "hi", "type": "quantitative", "scale": {"domain": [0.2, 1.1], "nice": false}}}},
            {"mark": {"type": "line", "strokeWidth": 2, "clip": true},
             "encoding": {"y": {"field": "y", "type": "quantitative", "scale": {"domain": [0.2, 1.1], "nice": false}}}},
            {"mark": {"type": "point", "filled": true, "size": 64, "opacity": 1, "clip": true},
             "encoding": {"y": {"field": "y", "type": "quantitative", "scale": {"domain": [0.2, 1.1], "nice": false}}}},
            {"transform": [{"filter": "false"}],
             "mark": {"type": "point", "filled": true, "opacity": 1},
             "encoding": {
               "y": {"field": "y", "type": "quantitative", "scale": {"domain": [0.2, 1.1], "nice": false}},
               "color": {"field": "f", "type": "nominal", "legend": {"title": null},
                 "scale": {"domain": ["y=0.9","2-fold","3-fold","4-fold","5-fold","6-fold","7-fold"], "range": ["#000000","#ffd700","#ffa500","#f07a12","#e8400f","#a82a2a","#4b0b0b"]}},
               "stroke": {"field": "f", "type": "nominal", "legend": {"title": null},
                 "scale": {"domain": ["y=0.9","2-fold","3-fold","4-fold","5-fold","6-fold","7-fold"], "range": ["#000000","#ffd700","#ffa500","#f07a12","#e8400f","#a82a2a","#4b0b0b"]}},
               "shape": {"field": "f", "type": "nominal", "legend": {"title": null},
                 "scale": {"domain": ["y=0.9","2-fold","3-fold","4-fold","5-fold","6-fold","7-fold"],
                   "range": ["M-1.83,-0.1H-0.3V0.1H-1.83ZM0.6,-0.1H1.83V0.1H0.6Z",
                     "M-1.83,0H1.83M0,-0.9V0.9M-1,-0.9H1M-1,0.9H1M0.72,0A0.72,0.72,0,1,1,-0.72,0A0.72,0.72,0,1,1,0.72,0Z",
                     "M-1.83,0H1.83M0,-0.9V0.9M-1,-0.9H1M-1,0.9H1M0.72,0A0.72,0.72,0,1,1,-0.72,0A0.72,0.72,0,1,1,0.72,0Z",
                     "M-1.83,0H1.83M0,-0.9V0.9M-1,-0.9H1M-1,0.9H1M0.72,0A0.72,0.72,0,1,1,-0.72,0A0.72,0.72,0,1,1,0.72,0Z",
                     "M-1.83,0H1.83M0,-0.9V0.9M-1,-0.9H1M-1,0.9H1M0.72,0A0.72,0.72,0,1,1,-0.72,0A0.72,0.72,0,1,1,0.72,0Z",
                     "M-1.83,0H1.83M0,-0.9V0.9M-1,-0.9H1M-1,0.9H1M0.72,0A0.72,0.72,0,1,1,-0.72,0A0.72,0.72,0,1,1,0.72,0Z",
                     "M-1.83,0H1.83M0,-0.9V0.9M-1,-0.9H1M-1,0.9H1M0.72,0A0.72,0.72,0,1,1,-0.72,0A0.72,0.72,0,1,1,0.72,0Z"]}}
             }}
          ]
        }
      ]
    }
  ],
  "resolve": {
    "scale": {"color": "independent", "stroke": "independent", "shape": "independent"},
    "legend": {"color": "independent", "stroke": "independent", "shape": "independent"}
  },
  "config": {
    "font": "DejaVu Sans",
    "view": {"stroke": "black", "strokeWidth": 1},
    "title": {"font": "DejaVu Sans", "fontSize": 14, "fontWeight": "bold", "color": "black"},
    "axis": {
      "domain": false,
      "tickColor": "black",
      "tickWidth": 1,
      "labelColor": "black",
      "labelFont": "DejaVu Sans",
      "labelFontSize": 16,
      "labelPadding": 4,
      "labelOverlap": false,
      "labelFlush": false,
      "labelBound": false,
      "titleFont": "DejaVu Sans",
      "titleFontSize": 16,
      "titleFontWeight": "normal",
      "titleColor": "black",
      "gridColor": "#8a8a8a",
      "gridDash": [6, 2.5, 1.5, 2.5],
      "gridWidth": 1
    },
    "axisX": {"titlePadding": 4},
    "axisY": {"titlePadding": 8},
    "legend": {
      "orient": "bottom-right",
      "offset": 5,
      "columns": 4,
      "symbolSize": 144,
      "symbolOffset": 5,
      "symbolStrokeWidth": 1.5,
      "symbolOpacity": 1,
      "labelFont": "DejaVu Sans",
      "labelFontSize": 11,
      "labelColor": "black",
      "labelOffset": 14,
      "columnPadding": 19,
      "rowPadding": -1,
      "padding": 3,
      "strokeColor": "#cccccc",
      "fillColor": "rgba(255,255,255,0.8)",
      "cornerRadius": 3
    }
  }
}
